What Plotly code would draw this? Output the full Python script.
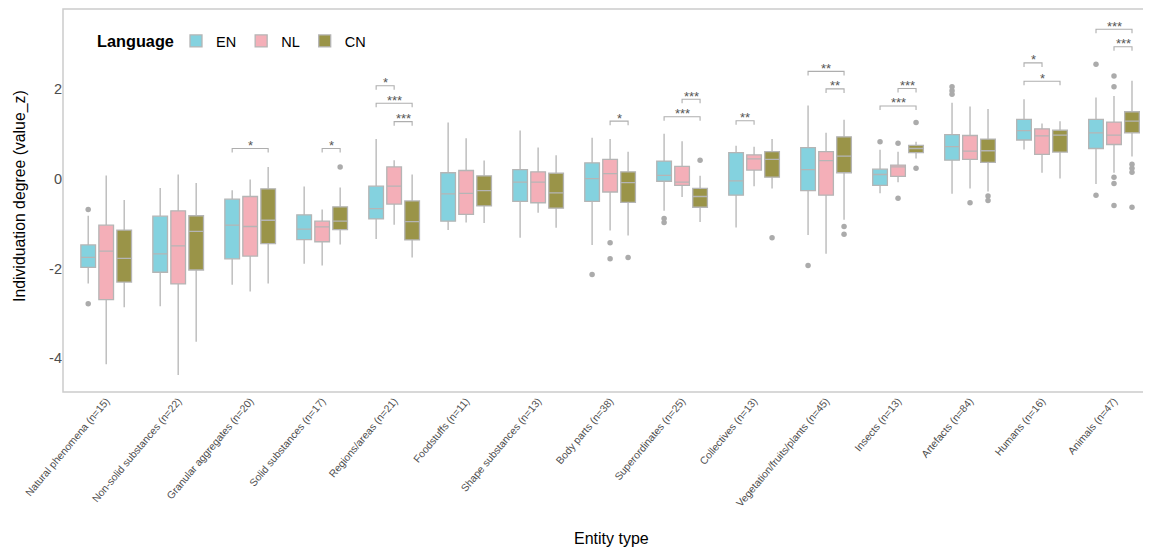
import plotly.graph_objects as go

categories = ["Natural phenomena (n=15)", "Non-solid substances (n=22)", "Granular aggregates (n=20)",
              "Solid substances (n=17)", "Regions/areas (n=21)", "Foodstuffs (n=11)",
              "Shape substances (n=13)", "Body parts (n=38)", "Superordinates (n=25)",
              "Collectives (n=13)", "Vegetation/fruits/plants (n=45)", "Insects (n=13)",
              "Artefacts (n=84)", "Humans (n=16)", "Animals (n=47)"]
languages = ["EN", "NL", "CN"]

en_q1 = [-1.97, -2.08, -1.78, -1.35, -0.89, -0.94, -0.50, -0.50, -0.05, -0.36, -0.26, -0.14, 0.42, 0.87, 0.68]
en_med = [-1.75, -1.67, -1.03, -1.12, -0.66, -0.33, -0.07, 0.01, 0.08, -0.04, 0.21, 0.10, 0.72, 1.08, 1.03]
en_q3 = [-1.47, -0.83, -0.45, -0.80, -0.16, 0.14, 0.21, 0.36, 0.40, 0.59, 0.70, 0.22, 0.99, 1.33, 1.33]
en_lo = [-2.33, -2.84, -2.36, -1.89, -1.34, -1.14, -1.31, -1.47, -0.71, -1.08, -1.25, -0.32, -0.33, 0.66, -0.11]
en_hi = [-0.82, -0.20, -0.25, -0.17, 0.89, 1.26, 1.08, 0.92, 1.01, 0.74, 1.64, 0.65, 1.70, 1.78, 1.82]
en_out = {0: [-0.68, -2.78], 7: [-2.13], 8: [-0.88, -0.97], 10: [-1.93], 11: [0.83],
          12: [2.06, 1.97, 1.89], 14: [2.56, -0.36]}

nl_q1 = [-2.69, -2.34, -1.72, -1.40, -0.56, -0.79, -0.53, -0.29, -0.14, 0.20, -0.36, 0.06, 0.44, 0.55, 0.77]
nl_med = [-1.61, -1.49, -1.06, -1.07, -0.16, -0.32, -0.07, 0.12, -0.07, 0.45, 0.41, 0.27, 0.62, 0.96, 0.98]
nl_q3 = [-1.03, -0.71, -0.39, -0.94, 0.27, 0.19, 0.16, 0.44, 0.28, 0.54, 0.61, 0.31, 0.97, 1.12, 1.27]
nl_lo = [-4.13, -4.37, -2.51, -1.93, -1.02, -0.97, -0.75, -1.15, -0.40, -0.16, -1.67, -0.07, -0.21, 0.14, 0.14]
nl_hi = [0.08, 0.10, -0.01, -0.68, 0.42, 0.91, 0.70, 0.89, 0.84, 0.72, 1.03, 0.61, 1.62, 1.24, 1.85]
nl_out = {7: [-1.42, -1.78], 11: [0.80, -0.43], 12: [-0.53], 14: [2.30, 2.06, 0.04, -0.10, -0.59]}

cn_q1 = [-2.30, -2.03, -1.44, -1.13, -1.36, -0.60, -0.65, -0.52, -0.63, 0.04, 0.14, 0.59, 0.37, 0.60, 1.03]
cn_med = [-1.77, -1.17, -0.92, -0.94, -0.95, -0.26, -0.31, -0.08, -0.39, 0.44, 0.51, 0.68, 0.63, 0.98, 1.29]
cn_q3 = [-1.14, -0.82, -0.22, -0.62, -0.49, 0.07, 0.13, 0.16, -0.21, 0.61, 0.94, 0.75, 0.89, 1.09, 1.50]
cn_lo = [-2.86, -3.63, -2.33, -1.46, -1.75, -0.98, -1.09, -1.26, -0.96, -0.21, -0.91, 0.46, -0.28, 0.01, 0.50]
cn_hi = [-0.47, -0.09, 0.27, -0.19, 0.10, 0.41, 0.53, 0.61, 0.07, 0.89, 1.32, 0.83, 1.56, 1.29, 2.19]
cn_out = {3: [0.27], 7: [-1.75], 8: [0.42], 9: [-1.31], 10: [-1.06, -1.23], 11: [1.26, 0.24],
          12: [-0.38, -0.48], 14: [0.33, 0.24, 0.15, -0.63]}

# significance brackets: (category index, language a, language b, bracket height, label)
sig_cat = [2, 3, 4, 4, 4, 7, 8, 8, 9, 10, 10, 11, 11, 13, 13, 14, 14]
sig_a = ["EN", "NL", "EN", "EN", "NL", "NL", "NL", "EN", "EN", "EN", "NL", "NL", "EN", "EN", "EN", "EN", "NL"]
sig_b = ["CN", "CN", "NL", "CN", "CN", "CN", "CN", "CN", "NL", "CN", "CN", "CN", "CN", "NL", "CN", "CN", "CN"]
sig_y = [0.68, 0.68, 2.08, 1.69, 1.28, 1.29, 1.78, 1.39, 1.30, 2.40, 2.01, 2.02, 1.63, 2.59, 2.18, 3.34, 2.95]
sig_label = ["*", "*", "*", "***", "***", "*", "***", "***", "**", "**", "**", "***", "***", "*", "*", "***", "***"]

colors = {"EN": "#84D2DF", "NL": "#F4AFB8", "CN": "#9A9448"}
offsets = {"EN": -0.25, "NL": 0.0, "CN": 0.25}
stats = {
    "EN": (en_q1, en_med, en_q3, en_lo, en_hi, en_out),
    "NL": (nl_q1, nl_med, nl_q3, nl_lo, nl_hi, nl_out),
    "CN": (cn_q1, cn_med, cn_q3, cn_lo, cn_hi, cn_out),
}

FONT = "Liberation Sans, Arial, Helvetica, sans-serif"
LINE = "#B5B5B5"
# the page body adds an 8px offset, so the figure is 8px smaller than the window
PAGE_OFF = 8
W, H = 1151 - PAGE_OFF, 550 - PAGE_OFF
ML, MT, MB = 63 - PAGE_OFF, 9 - PAGE_OFF, 158
plot_h = H - MT - MB
plot_w = W - ML


def px_x(wx):
    return (wx - PAGE_OFF - ML) / plot_w


def px_y(wy):
    return (H - MB - (wy - PAGE_OFF)) / plot_h


fig = go.Figure()
idx = list(range(len(categories)))
for lang in languages:
    q1, med, q3, lo, hi, out = stats[lang]
    xs = [i + offsets[lang] for i in idx]
    fig.add_trace(go.Box(
        name=lang, x=xs, q1=q1, median=med, q3=q3, lowerfence=lo, upperfence=hi,
        width=0.204, whiskerwidth=0, boxpoints=False,
        fillcolor=colors[lang], line=dict(color=LINE, width=1.3),
        hoverinfo="skip",
    ))
for lang in languages:
    out = stats[lang][5]
    ox, oy = [], []
    for c, vals in out.items():
        for v in vals:
            ox.append(c + offsets[lang])
            oy.append(v)
    fig.add_trace(go.Scatter(x=ox, y=oy, mode="markers", showlegend=False,
                             marker=dict(color="#ABABAB", size=5.5), hoverinfo="skip"))

tick = 0.09
for c, a, b, y, lab in zip(sig_cat, sig_a, sig_b, sig_y, sig_label):
    x1 = c + offsets[a]
    x2 = c + offsets[b]
    fig.add_shape(type="path", xref="x", yref="y",
                  path=f"M{x1},{y - tick} L{x1},{y} L{x2},{y} L{x2},{y - tick}",
                  line=dict(color="#AEAEAE", width=1.1))
    fig.add_annotation(x=(x1 + x2) / 2, y=y, text=lab, showarrow=False, yshift=3,
                       font=dict(size=13, color="#555555", family=FONT))

# panel border
fig.add_shape(type="rect", xref="paper", yref="paper", x0=0, x1=1.01, y0=0, y1=1,
              line=dict(color="#CCCCCC", width=1.5), layer="above")

# axis titles
fig.add_annotation(xref="paper", yref="paper", x=px_x(611), y=px_y(538),
                   text="Entity type", showarrow=False, xanchor="center", yanchor="middle",
                   font=dict(size=16, color="#000000", family=FONT))
fig.add_annotation(xref="paper", yref="paper", x=px_x(20), y=px_y(196),
                   text="Individuation degree (value_z)", showarrow=False, textangle=-90,
                   xanchor="center", yanchor="middle",
                   font=dict(size=15.8, color="#000000", family=FONT))
# legend title
fig.add_annotation(xref="paper", yref="paper", x=px_x(95), y=px_y(41),
                   text="<b>Language</b>", showarrow=False, xanchor="left", yanchor="middle",
                   font=dict(size=16.3, color="#000000", family=FONT))

fig.update_layout(
    width=W, height=H,
    margin=dict(l=ML, r=0, t=MT, b=MB, autoexpand=False),
    paper_bgcolor="white", plot_bgcolor="white",
    boxmode="overlay",
    font=dict(family=FONT, color="#000000"),
    xaxis=dict(range=[-0.6, 14.514], tickmode="array", tickvals=idx, ticktext=categories,
               tickangle=-50, tickfont=dict(size=10.4, color="#4D4D4D"), showgrid=False,
               zeroline=False, showline=False, ticks="", automargin=False),
    yaxis=dict(range=[-4.751, 3.792], tickvals=[-4, -2, 0, 2], ticktext=["-4", "-2", "0", "2"],
               tickfont=dict(size=14.5, color="#4D4D4D"), showgrid=False, zeroline=False,
               showline=False, ticks="", automargin=False),
    legend=dict(orientation="h", x=px_x(176), y=px_y(41), xanchor="left", yanchor="middle",
                bgcolor="rgba(0,0,0,0)",
                font=dict(size=14.5, color="#000000"), itemwidth=30),
)

fig.write_html("out.html")
